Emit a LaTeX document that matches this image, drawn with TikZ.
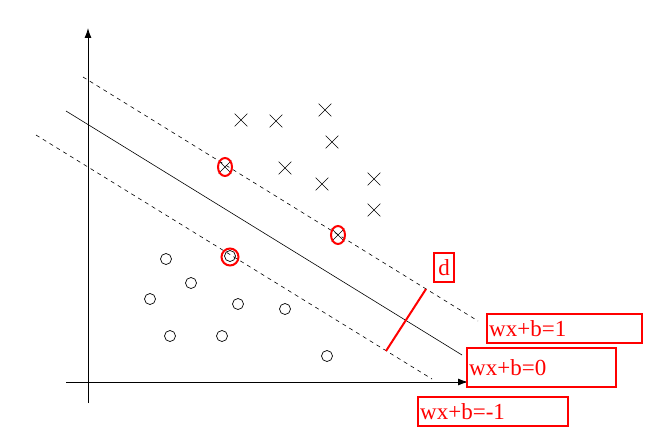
\documentclass[tikz,border=0pt]{standalone}
\usepackage{fontspec}
\setmainfont{Liberation Serif}
\usetikzlibrary{arrows.meta,shapes.misc,shapes.geometric}
\begin{document}
\begin{tikzpicture}[x=1pt,y=-1pt,
  axis/.style={line width=0.9pt,-{Latex[length=10pt,width=7pt]}},
  sep/.style={line width=0.6pt},
  margin/.style={line width=0.6pt,dash pattern=on 4pt off 4pt},
  xpt/.style={cross out,draw,line width=0.7pt,minimum size=12pt,inner sep=0pt},
  opt/.style={circle,draw,line width=0.7pt,minimum size=11pt,inner sep=0pt},
  sv/.style={ellipse,draw=red,line width=2pt,minimum width=14pt,minimum height=18pt,inner sep=0pt},
  lbl/.style={draw=red,line width=2.4pt,text=red,font=\fontsize{23}{25}\selectfont,anchor=north west,inner sep=2pt,minimum height=29pt,align=left},
  dline/.style={draw=red,line width=2pt}]
\useasboundingbox (0,0) rectangle (656,441);
% axes
\coordinate (yb) at (88,403);
\coordinate (yt) at (88,28);
\coordinate (xl) at (66,382);
\coordinate (xr) at (468,382);
\draw[axis] (yb) -- (yt);
\draw[axis] (xl) -- (xr);
% separating line and margins
\coordinate (s1) at (66,111);
\coordinate (s2) at (462,355);
\coordinate (u1) at (83,77);
\coordinate (u2) at (478,321);
\coordinate (m1) at (36,135);
\coordinate (m2) at (432,379);
\draw[sep] (s1) -- (s2);
\draw[margin] (u1) -- (u2);
\draw[margin] (m1) -- (m2);
% crosses
\node[xpt] (x1) at (241,120) {};
\node[xpt] (x2) at (276,121) {};
\node[xpt] (x3) at (325,110) {};
\node[xpt] (x4) at (332,142) {};
\node[xpt] (x5) at (285,168) {};
\node[xpt] (x6) at (322,184) {};
\node[xpt] (x7) at (374,179) {};
\node[xpt] (x8) at (374,210) {};
\node[xpt] (x9) at (225,167) {};
\node[xpt] (x10) at (338,235) {};
% circles
\node[opt] (o1) at (166,259) {};
\node[opt] (o2) at (191,283) {};
\node[opt] (o3) at (150,299) {};
\node[opt] (o4) at (238,304) {};
\node[opt] (o5) at (285,309) {};
\node[opt] (o6) at (170,336) {};
\node[opt] (o7) at (222,336) {};
\node[opt] (o8) at (327,356) {};
\node[opt] (o9) at (230,256) {};
% support vectors
\node[sv] (h1) at (225,167) {};
\node[sv] (h2) at (338,235) {};
\node[sv,minimum width=17pt,minimum height=17pt] (h3) at (230,257) {};
% margin width
\coordinate (d1) at (386,351);
\coordinate (d2) at (426,289);
\draw[dline] (d1) -- (d2);
% labels
\node[lbl,minimum width=20pt,inner sep=1pt] (ld) at (433,252) {d};
\node[lbl,text width=151pt] (l1) at (486,313) {wx+b=1};
\node[lbl,text width=145pt,minimum height=39pt] (l0) at (466,347) {wx+b=0};
\node[lbl,text width=146pt] (lm) at (417,396) {wx+b=-1};
\end{tikzpicture}
\end{document}
